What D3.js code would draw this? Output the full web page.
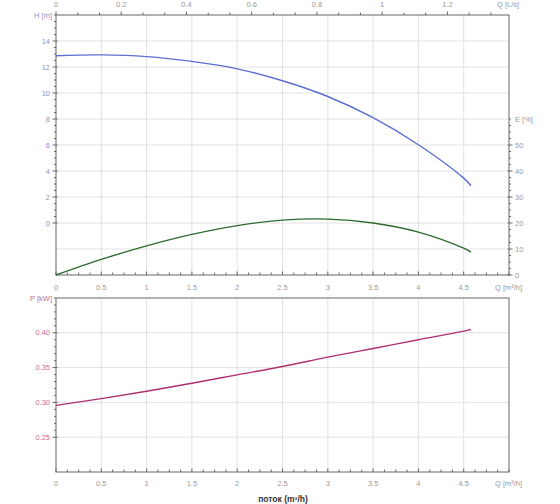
<!DOCTYPE html>
<html>
<head>
<meta charset="utf-8">
<script src="https://cdn.jsdelivr.net/npm/d3@7"></script>
<style>
  body { margin: 0; background: #fff; }
  text { font-family: "Liberation Sans", Arial, sans-serif; }
</style>
</head>
<body>
<svg id="chart" width="560" height="504"></svg>
<script>
// flow points (m3/h) and curves
const flow = [0, 0.5, 1, 1.5, 2, 2.5, 3, 3.5, 4, 4.5, 4.58];
const head = [12.87, 12.93, 12.8, 12.43, 11.86, 10.94, 9.73, 8.1, 6.02, 3.45, 2.87];
const efficiency = [0, 6.0, 11.2, 15.6, 19.0, 21.1, 21.5, 20.0, 16.5, 10.3, 8.8];
const power = [0.2957, 0.3055, 0.316, 0.3275, 0.3396, 0.3516, 0.365, 0.3775, 0.390, 0.4025, 0.405];

const flowTicks = [0, 0.5, 1, 1.5, 2, 2.5, 3, 3.5, 4, 4.5];
const litreTicks = [0, 0.2, 0.4, 0.6, 0.8, 1, 1.2];
const headTicks = [0, 2, 4, 6, 8, 10, 12, 14];
const effTicks = [0, 10, 20, 30, 40, 50];
const powerTicks = [0.25, 0.30, 0.35, 0.40];

const svg = d3.select( "#chart" );

const axisColor = "#666";
const gridColor = "#e2e2e2";
const labelColor = "#999";
const headColor = "#8a90cc";
const powerColor = "#c46f93";

const x = d3.scaleLinear().domain( [ 0, 5 ] ).range( [ 56, 509 ] );
const xLs = d3.scaleLinear().domain( [ 0, 5 / 3.6 ] ).range( [ 56, 509 ] );
const yH = d3.scaleLinear().domain( [ -4, 16 ] ).range( [ 275, 15 ] );
const yE = d3.scaleLinear().domain( [ 0, 100 ] ).range( [ 275, 15 ] );
const yP = d3.scaleLinear().domain( [ 0.2, 0.45 ] ).range( [ 472, 298 ] );

const rows = flow.map( ( q, i ) => ( { q: q, h: head[ i ], e: efficiency[ i ], p: power[ i ] } ) );

// grids
function grid( yScale, yVals, top, bottom ) {
  svg.append( "g" ).selectAll( "line.v" )
    .data( flowTicks.slice( 1 ) )
    .enter().append( "line" )
      .attr( "x1", d => x( d ) ).attr( "x2", d => x( d ) )
      .attr( "y1", top ).attr( "y2", bottom )
      .attr( "stroke", gridColor );
  svg.append( "g" ).selectAll( "line.h" )
    .data( yVals )
    .enter().append( "line" )
      .attr( "x1", x( 0 ) ).attr( "x2", x( 5 ) )
      .attr( "y1", d => yScale( d ) ).attr( "y2", d => yScale( d ) )
      .attr( "stroke", gridColor );
}

grid( yH, d3.range( -2, 16, 2 ), 15, 275 );
grid( yP, powerTicks, 298, 472 );

// frames
function frame( top, bottom ) {
  svg.append( "rect" )
    .attr( "x", x( 0 ) ).attr( "y", top )
    .attr( "width", x( 5 ) - x( 0 ) ).attr( "height", bottom - top )
    .attr( "fill", "none" )
    .attr( "stroke", axisColor )
    .attr( "stroke-width", 1 );
}
frame( 15, 275 );
frame( 298, 472 );

// ticks
function vTicks( xPos, scale, majors, minorStep, from, to, dir ) {
  const g = svg.append( "g" ).attr( "stroke", axisColor );
  d3.range( from, to + minorStep / 2, minorStep ).forEach( v => {
    const major = majors.some( m => Math.abs( m - v ) < minorStep / 10 );
    const len = major ? 3.5 : 2;
    g.append( "line" )
      .attr( "x1", xPos - len ).attr( "x2", xPos + ( major ? 1.5 : 0 ) )
      .attr( "y1", scale( v ) ).attr( "y2", scale( v ) )
      .attr( "transform", dir > 0 ? `translate(${ 2 * xPos },0) scale(-1,1)` : null );
  } );
}

function hTicks( yPos, scale, majors, minorStep, from, to, dir ) {
  const g = svg.append( "g" ).attr( "stroke", axisColor );
  d3.range( from, to + minorStep / 2, minorStep ).forEach( v => {
    const major = majors.some( m => Math.abs( m - v ) < minorStep / 10 );
    const len = major ? 3.5 : 2.5;
    g.append( "line" )
      .attr( "x1", scale( v ) ).attr( "x2", scale( v ) )
      .attr( "y1", yPos ).attr( "y2", yPos + dir * len );
  } );
}

vTicks( x( 0 ), yH, headTicks, 0.5, 0, 16, -1 );
vTicks( x( 5 ), yE, effTicks, 2.5, 0, 60, 1 );
vTicks( x( 0 ), yP, powerTicks, 0.01, 0.25, 0.45, -1 );
hTicks( 275, x, flowTicks, 0.125, 0, 5, -1 );
hTicks( 472, x, flowTicks, 0.125, 0, 5, -1 );
hTicks( 15, xLs, litreTicks, 0.2 / 3, 0, 1.3, -1 );

// tick labels
function labels( data, fx, fy, anchor, color, fmt ) {
  svg.append( "g" ).selectAll( "text" )
    .data( data )
    .enter().append( "text" )
      .attr( "x", fx ).attr( "y", fy )
      .attr( "text-anchor", anchor )
      .attr( "dominant-baseline", "central" )
      .attr( "fill", color )
      .style( "font-size", "7.5px" )
      .text( fmt );
}

labels( litreTicks, d => xLs( d ), 4, "middle", labelColor, d => d3.format( "~g" )( d ) );
labels( flowTicks, d => x( d ), 287, "middle", labelColor, d => d3.format( "~g" )( d ) );
labels( flowTicks, d => x( d ), 483, "middle", labelColor, d => d3.format( "~g" )( d ) );
labels( headTicks, 50, d => yH( d ), "end", headColor, d => d );
labels( effTicks, 515, d => yE( d ), "start", labelColor, d => d );
labels( powerTicks, 50, d => yP( d ), "end", powerColor, d => d3.format( ".2f" )( d ) );

// axis titles
const titles = [
  { t: "Q [L/s]", x: 497, y: 4, a: "start", c: labelColor },
  { t: "H [m]", x: 52, y: 15, a: "end", c: headColor },
  { t: "E [%]", x: 515, y: yE( 60 ), a: "start", c: labelColor },
  { t: "Q [m³/h]", x: 495, y: 287, a: "start", c: labelColor },
  { t: "P [kW]", x: 52, y: 298, a: "end", c: powerColor },
  { t: "Q [m³/h]", x: 495, y: 483, a: "start", c: labelColor }
];
svg.append( "g" ).selectAll( "text" )
  .data( titles )
  .enter().append( "text" )
    .attr( "x", d => d.x ).attr( "y", d => d.y )
    .attr( "text-anchor", d => d.a )
    .attr( "dominant-baseline", "central" )
    .attr( "fill", d => d.c )
    .style( "font-size", "7.5px" )
    .text( d => d.t );

svg.append( "text" )
  .attr( "x", 283 ).attr( "y", 499 )
  .attr( "text-anchor", "middle" )
  .attr( "dominant-baseline", "central" )
  .attr( "fill", "#333" )
  .style( "font-size", "8.5px" )
  .style( "font-weight", "bold" )
  .text( "поток (m³/h)" );

// curves
function curve( fy, color ) {
  svg.append( "path" )
    .datum( rows )
    .attr( "fill", "none" )
    .attr( "stroke", color )
    .attr( "stroke-width", 1.4 )
    .attr( "d", d3.line().x( d => x( d.q ) ).y( fy ).curve( d3.curveCatmullRom.alpha( 0.5 ) ) );
}

curve( d => yH( d.h ), "#5a6fd0" );
curve( d => yE( d.e ), "#2f6a2f" );
curve( d => yP( d.p ), "#b0306f" );
</script>
</body>
</html>
